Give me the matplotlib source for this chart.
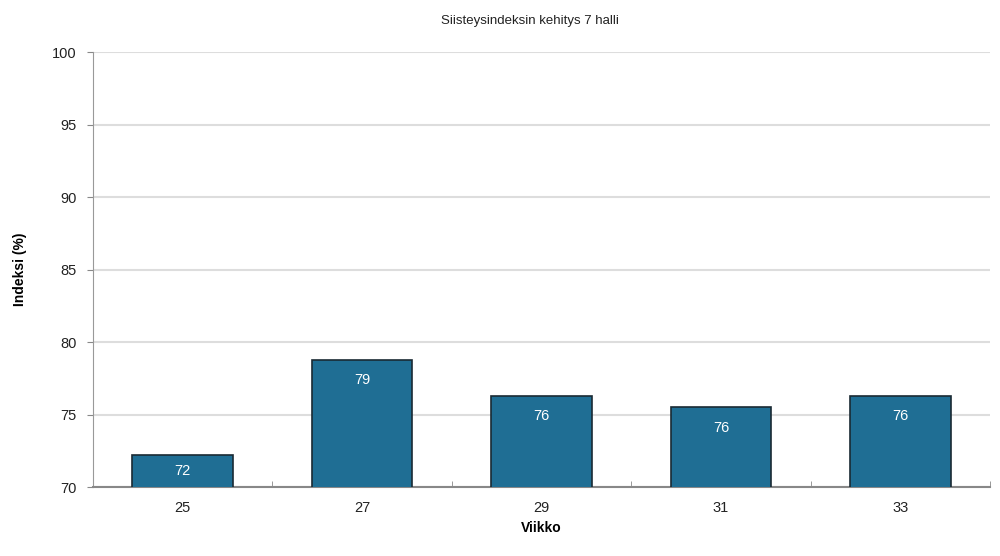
import matplotlib.pyplot as plt
import numpy as np

plt.rcParams['font.family'] = ['Liberation Sans', 'DejaVu Sans']

weeks = ["25", "27", "29", "31", "33"]
index = [72.2, 78.8, 76.3, 75.5, 76.3]

fig = plt.figure(figsize=(10, 5.56), dpi=100)
ax = fig.add_axes([0.093, 0.124, 0.897, 0.782])

x = np.arange(len(weeks))
bars = ax.bar(x, index, width=0.56, bottom=0, color="#1f6e94",
              edgecolor="#1a2a33", linewidth=1.2, zorder=3)
for b, v in zip(bars, index):
    # label near the top of the bar, centred if the bar is short
    ly = max(v - 1.4, (70 + v) / 2)
    ax.text(b.get_x() + b.get_width() / 2, ly, f"{v:.0f}",
            ha="center", va="center", color="white", fontsize=10.5, zorder=4)

ax.set_xlim(-0.5, len(weeks) - 0.5)
ax.set_ylim(70, 100)
ax.set_yticks(range(70, 101, 5))
ax.set_xticks(x)
ax.set_xticklabels(weeks)
ax.set_xticks(np.arange(-0.5, len(weeks)), minor=True)
ax.tick_params(axis="x", which="major", length=0, pad=10, labelsize=10.5, colors="#222222")
ax.tick_params(axis="x", which="minor", length=4, color="#888888", direction="in")
ax.tick_params(axis="y", length=4, color="#888888", labelsize=10.5, colors="#222222", pad=8)
ax.tick_params(axis="y", colors="#888888", labelcolor="#222222")

ax.grid(axis="y", color="#dddddd", linewidth=1.5, zorder=0)
for s in ["top", "right"]:
    ax.spines[s].set_visible(False)
ax.spines["left"].set_color("#999999")
ax.spines["bottom"].set_color("#888888")
ax.spines["bottom"].set_linewidth(1.5)

ax.set_xlabel("Viikko", fontsize=10, fontweight="bold", labelpad=4)
ax.set_ylabel("Indeksi (%)", fontsize=10, fontweight="bold", labelpad=18)
fig.text(0.53, 0.962, "Siisteysindeksin kehitys 7 halli", ha="center",
         va="center", fontsize=9.5, color="#222222")

fig.savefig("out.png", dpi=100)
